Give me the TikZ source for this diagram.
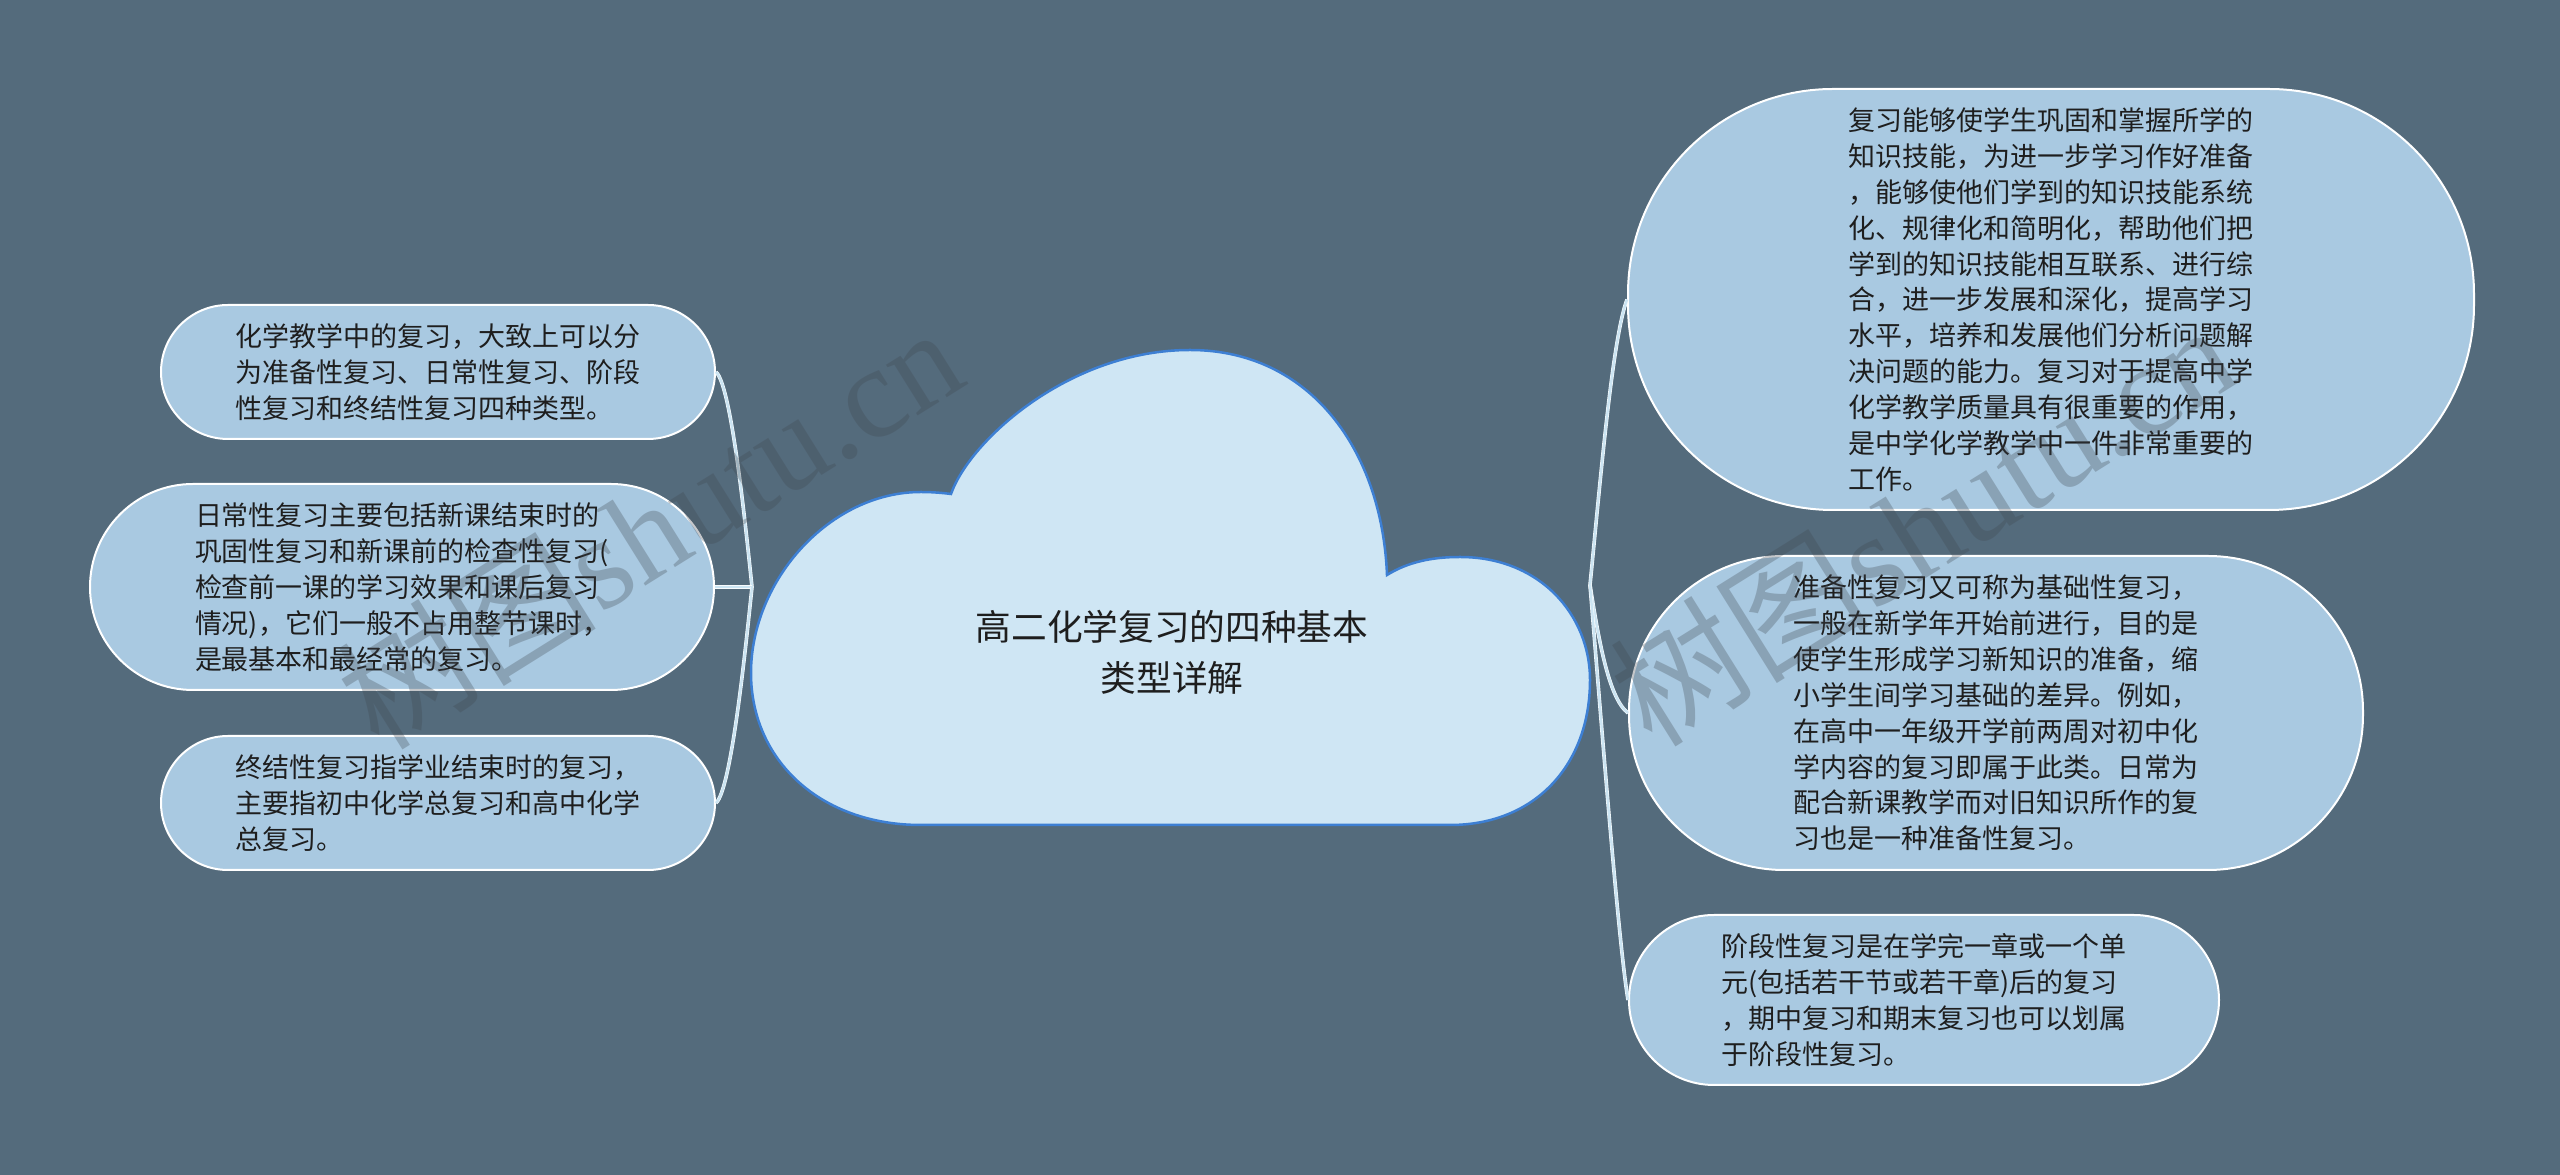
\documentclass[tikz,border=0pt]{standalone}
\usepackage{fontspec}
\newfontfamily\cjk{Noto Sans CJK SC}
\newfontfamily\wmserif{Liberation Serif}
\usetikzlibrary{calc}
\definecolor{bg}{HTML}{546B7C}
\definecolor{boxfill}{HTML}{A9C9E1}
\definecolor{cloudfill}{HTML}{CFE6F4}
\definecolor{cloudedge}{HTML}{3D7FD3}
\definecolor{linkc}{HTML}{CCE5F3}
\definecolor{txt}{HTML}{1E1E1E}
\definecolor{wm}{HTML}{404850}
\begin{document}
\begin{tikzpicture}[x=0.1mm,y=-0.1mm,
  leaf/.style={draw=white, line width=0.2mm, fill=boxfill, align=left, text=txt,
    font=\cjk\fontsize{7.68pt}{10.2pt}\selectfont, inner sep=0pt},
  link/.style={draw=white!85!linkc, double=linkc, double distance=0.24mm, line width=0.06mm},
  wmark/.style={text=wm, opacity=0.3, rotate=32, inner sep=0pt}
]
\fill[bg] (0,0) rectangle (2560,1175);
\useasboundingbox (0,0) rectangle (2560,1175);

% central cloud
\path[fill=cloudfill, draw=cloudedge, line width=0.25mm]
 (951,494) .. controls (970,440) and (1070,350) .. (1190,350)
 .. controls (1310,350) and (1382,450) .. (1387,575)
 .. controls (1408,562) and (1432,557) .. (1460,557)
 .. controls (1540,557) and (1590,615) .. (1590,680)
 .. controls (1590,765) and (1535,825) .. (1450,825)
 -- (921,825)
 .. controls (820,825) and (751,760) .. (751,673)
 .. controls (751,580) and (830,492) .. (921,492)
 .. controls (933,492) and (943,493) .. (951,494) -- cycle;
\node[align=center, text=txt, font=\cjk\fontsize{10.16pt}{14.5pt}\selectfont] (root) at (1172,652)
  {高二化学复习的四种基本\\类型详解};

\coordinate (JL) at (752,587);
\coordinate (JR) at (1590,585);

% left leaves
\node[leaf, minimum width=55.4mm, minimum height=13.4mm, rounded corners=6.7mm] (L1) at (438,372)
 {化学教学中的复习，大致上可以分\\为准备性复习、日常性复习、阶段\\性复习和终结性复习四种类型。};
\node[leaf, minimum width=62.4mm, minimum height=20.6mm, rounded corners=10.3mm] (L2) at (402,587)
 {日常性复习主要包括新课结束时的\\巩固性复习和新课前的检查性复习(\\检查前一课的学习效果和课后复习\\情况)，它们一般不占用整节课时，\\是最基本和最经常的复习。};
\node[leaf, minimum width=55.4mm, minimum height=13.4mm, rounded corners=6.7mm] (L3) at (438,803)
 {终结性复习指学业结束时的复习，\\主要指初中化学总复习和高中化学\\总复习。};

% right leaves
\node[leaf, minimum width=84.6mm, minimum height=42.1mm, rounded corners=20.5mm] (R1) at (2051,299.5)
 {复习能够使学生巩固和掌握所学的\\知识技能，为进一步学习作好准备\\，能够使他们学到的知识技能系统\\化、规律化和简明化，帮助他们把\\学到的知识技能相互联系、进行综\\合，进一步发展和深化，提高学习\\水平，培养和发展他们分析问题解\\决问题的能力。复习对于提高中学\\化学教学质量具有很重要的作用，\\是中学化学教学中一件非常重要的\\工作。};
\node[leaf, minimum width=73.4mm, minimum height=31.4mm, rounded corners=15.5mm] (R2) at (1996,713)
 {准备性复习又可称为基础性复习，\\一般在新学年开始前进行，目的是\\使学生形成学习新知识的准备，缩\\小学生间学习基础的差异。例如，\\在高中一年级开学前两周对初中化\\学内容的复习即属于此类。日常为\\配合新课教学而对旧知识所作的复\\习也是一种准备性复习。};
\node[leaf, minimum width=59mm, minimum height=17mm, rounded corners=8.5mm] (R3) at (1924,1000)
 {阶段性复习是在学完一章或一个单\\元(包括若干节或若干章)后的复习\\，期中复习和期末复习也可以划属\\于阶段性复习。};

% connectors
\draw[link] (L1.east) .. controls +(15,13) and +(-7,-67) .. (JL);
\draw[link] (L2.east) -- (JL);
\draw[link] (L3.east) .. controls +(15,-13) and +(-7,67) .. (JL);
\draw[link] (JR) .. controls +(10,-100) and +(-15,40) .. (R1.west);
\draw[link] (JR) .. controls +(8,50) and +(-20,-15) .. (R2.west);
\draw[link] (JR) .. controls +(10,120) and +(-10,-60) .. (R3.west);

% watermarks
\node[wmark] (wm1) at (649,526) {\fontsize{37pt}{40pt}\selectfont\cjk 树图\wmserif shutu.cn};
\node[wmark] (wm2) at (1922,523) {\fontsize{37pt}{40pt}\selectfont\cjk 树图\wmserif shutu.cn};
\end{tikzpicture}
\end{document}
